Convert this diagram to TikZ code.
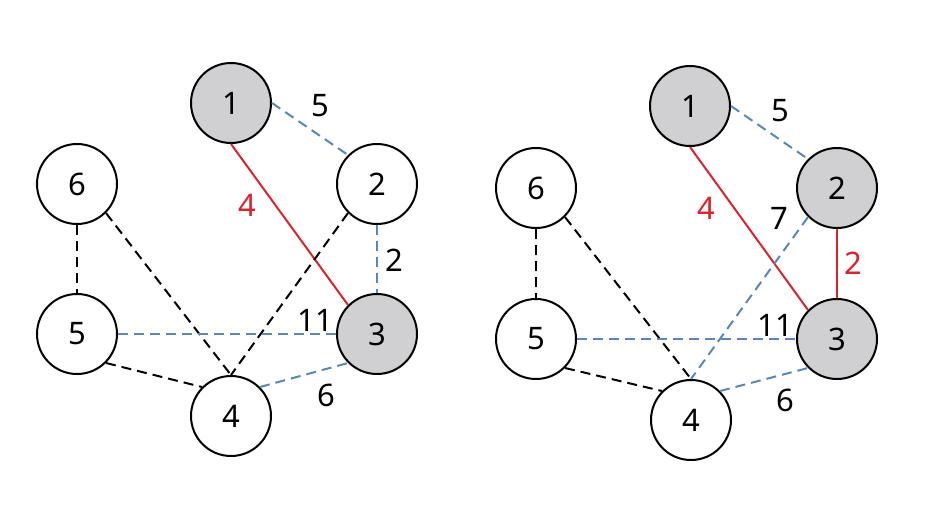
\documentclass[tikz,border=0pt]{standalone}
\usepackage{fontspec}
\setmainfont{Noto Sans}
\definecolor{nodegray}{HTML}{D0CFD1}
\definecolor{edgeblue}{HTML}{5A86BE}
\definecolor{edgered}{HTML}{D9242B}
\tikzset{
  vtx/.style={circle, draw=black, line width=2pt, minimum size=80pt, inner sep=0pt, fill=white, font=\fontsize{31}{36}\selectfont},
  sel/.style={vtx, fill=nodegray},
  bdash/.style={draw=edgeblue, line width=2pt, dash pattern=on 10pt off 6pt},
  kdash/.style={draw=black, line width=2pt, dash pattern=on 10pt off 6pt},
  rline/.style={draw=edgered, line width=2pt},
  wlab/.style={font=\fontsize{31}{36}\selectfont, inner sep=0pt},
  rlab/.style={wlab, text=edgered}
}
\begin{document}
\begin{tikzpicture}[x=1pt, y=-1pt]
\useasboundingbox (0,0) rectangle (936,522);
% ---------- left graph ----------
\node[sel] (a1) at (231,103) {1};
\node[vtx] (a2) at (377,184) {2};
\node[vtx] (a6) at (77,184) {6};
\node[vtx] (a5) at (77,334) {5};
\node[sel] (a3) at (377,334) {3};
\node[vtx] (a4) at (231,416) {4};
\draw[bdash] (a1.east) -- (a2.north west);
\draw[rline] (a1.south) -- (a3.north west);
\draw[bdash] (a2.south) -- (a3.north);
\draw[kdash] (a2.south west) -- (a4.north);
\draw[kdash] (a6.south) -- (a5.north);
\draw[kdash] (a6.south east) -- (a4.north);
\draw[bdash] (a5.east) -- (a3.west);
\draw[kdash] (a5.south east) -- (a4.north west);
\draw[bdash] (a4.north east) -- (a3.south west);
\node[wlab] (la5) at (320,106) {5};
\node[rlab] (la4) at (247,205) {4};
\node[wlab] (la2) at (394,260) {2};
\node[wlab] (la11) at (315,320) {11};
\node[wlab] (la6) at (326,395) {6};
% ---------- right graph ----------
\node[sel] (b1) at (690,106) {1};
\node[sel] (b2) at (837,188) {2};
\node[vtx] (b6) at (536,188) {6};
\node[vtx] (b5) at (536,339) {5};
\node[sel] (b3) at (837,339) {3};
\node[vtx] (b4) at (691,420) {4};
\draw[bdash] (b1.east) -- (b2.north west);
\draw[rline] (b1.south) -- (b3.north west);
\draw[rline] (b2.south) -- (b3.north);
\draw[bdash] (b2.south west) -- (b4.north);
\draw[kdash] (b6.south) -- (b5.north);
\draw[kdash] (b6.south east) -- (b4.north);
\draw[bdash] (b5.east) -- (b3.west);
\draw[kdash] (b5.south east) -- (b4.north west);
\draw[bdash] (b4.north east) -- (b3.south west);
\node[wlab] (lb5) at (780,111) {5};
\node[rlab] (lb4) at (706,208) {4};
\node[wlab] (lb7) at (779,218) {7};
\node[rlab] (lb2) at (853,263) {2};
\node[wlab] (lb11) at (775,325) {11};
\node[wlab] (lb6) at (785,400) {6};
\end{tikzpicture}
\end{document}
